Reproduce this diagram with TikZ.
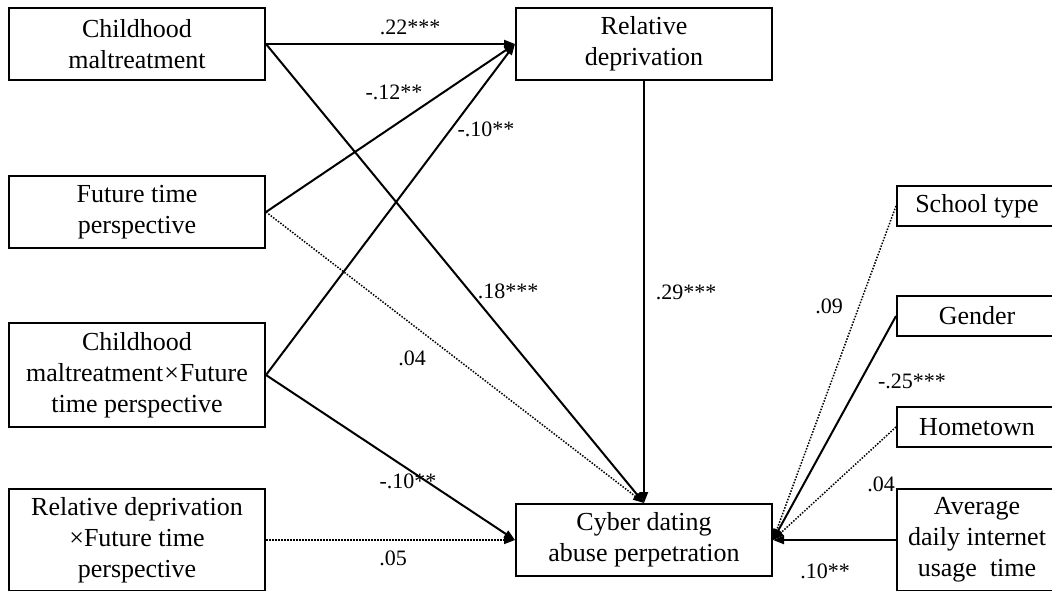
\documentclass[tikz,border=0pt]{standalone}
\usepackage{fontspec}
\setmainfont{Liberation Serif}
\usetikzlibrary{arrows.meta}
\tikzset{
  var/.style={draw, line width=2pt, align=center, inner sep=0pt,
    font=\fontsize{26}{31}\selectfont},
  path/.style={line width=2pt, -{Triangle[length=11pt,width=8pt]}},
  nspath/.style={path, line width=1.5pt, dash pattern=on 1.5pt off 1.5pt},
  coef/.style={font=\fontsize{22}{26}\selectfont, inner sep=0pt}
}
\begin{document}
\begin{tikzpicture}[x=1pt, y=-1pt]
\useasboundingbox (0,0) rectangle (1052,590);
\clip (0,0) rectangle (1052,590);
\fill[white] (0,0) rectangle (1052,590);

% predictors (left column)
\node[var, minimum width=256pt, minimum height=72pt] (cm)  at (137,44) {Childhood\\maltreatment};
\node[var, minimum width=256pt, minimum height=72pt] (ftp) at (137,212) {Future time\\perspective};
\node[var, minimum width=256pt, minimum height=104pt] (cmx) at (137,375) {Childhood\\maltreatment{\kern1pt}×{\kern1pt}Future\\time perspective};
\node[var, minimum width=256pt, minimum height=102pt] (rdx) at (137,540) {Relative deprivation\\×Future time\\perspective};

% mediator and outcome
\node[var, minimum width=256pt, minimum height=72pt] (rd)  at (644,44) {Relative\\deprivation};
\node[var, minimum width=256pt, minimum height=72pt] (cda) at (644,540) {Cyber dating\\abuse perpetration};

% covariates (right column)
\node[var, minimum width=160pt, minimum height=40pt] (st)  at (977,206) {School type};
\node[var, minimum width=160pt, minimum height=40pt] (gen) at (977,316) {Gender};
\node[var, minimum width=160pt, minimum height=40pt] (ht)  at (977,427) {Hometown};
\node[var, minimum width=160pt, minimum height=102pt] (adi) at (977,540) {Average\\daily internet\\usage~ time};

% paths to relative deprivation
\draw[path] (cm.east)  -- (rd.west);
\draw[path] (ftp.east) -- (rd.west);
\draw[path] (cmx.east) -- (rd.west);

% paths to cyber dating abuse perpetration
\draw[path]   (cm.east)  -- (cda.north);
\draw[nspath] (ftp.east) -- (cda.north);
\draw[path]   (rd.south) -- (cda.north);
\draw[path]   (cmx.east) -- (cda.west);
\draw[nspath] (rdx.east) -- (cda.west);

% covariate paths
\draw[nspath] (st.west)  -- (cda.east);
\draw[path]   (gen.west) -- (cda.east);
\draw[nspath] (ht.west)  -- (cda.east);
\draw[path]   (adi.west) -- (cda.east);

% coefficients
\node[coef] at (410,27)  {.22***};
\node[coef] at (394,92)  {-.12**};
\node[coef] at (486,129) {-.10**};
\node[coef] at (508,291) {.18***};
\node[coef] at (686,292) {.29***};
\node[coef] at (412,358) {.04};
\node[coef] at (408,481) {-.10**};
\node[coef] at (393,558) {.05};
\node[coef] at (829,306) {.09};
\node[coef] at (912,381) {-.25***};
\node[coef] at (881,484) {.04};
\node[coef] at (825,571) {.10**};
\end{tikzpicture}
\end{document}
